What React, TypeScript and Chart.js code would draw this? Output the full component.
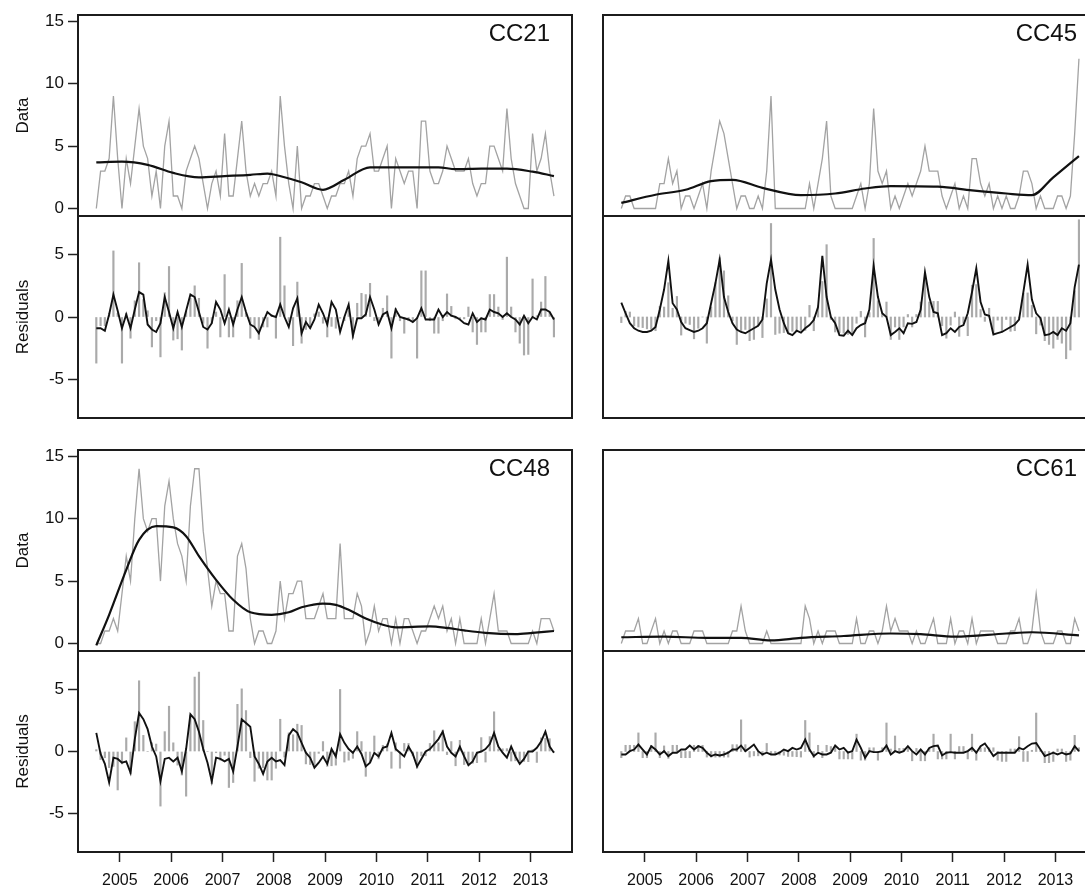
import React, { useEffect, useRef } from "react";
import { Chart, registerables } from "chart.js";

Chart.register(...registerables);

const FONT = '"Liberation Sans", Arial, Helvetica, sans-serif';
Chart.defaults.font.family = FONT;

// ---------- axes / categories ----------
const START_YEAR = 2005;
const X_MIN = 2004.685;
const X_MAX = 2014.31;
const YEAR_TICKS = [2005, 2006, 2007, 2008, 2009, 2010, 2011, 2012, 2013, 2014];
const YEAR_LABELS = [2005, 2006, 2007, 2008, 2009, 2010, 2011, 2012, 2013];
const DATA_TICKS = [0, 5, 10, 15];
const RESID_TICKS = [-5, 0, 5];
const DATA_MIN = -0.6;
const DATA_MAX = 15.5;
const RESID_MIN = -8.1;
const RESID_MAX = 8.1;

// ---------- CC21 ----------
const cc21Data = [
  0, 3, 3, 4, 9, 4, 0, 4, 2, 5,
  8, 5, 4, 1, 3, 0, 5, 7, 1, 1,
  0, 3, 4, 5, 4, 2, 0, 2, 3, 1,
  6, 1, 1, 4, 7, 3, 1, 2, 1, 2,
  2, 3, 1, 9, 5, 2, 0, 5, 0, 1,
  1, 2, 2, 1, 0, 1, 1, 2, 2, 3,
  1, 4, 5, 5, 6, 3, 3, 4, 5, 0,
  4, 3, 2, 3, 3, 0, 7, 7, 3, 2,
  2, 3, 5, 4, 3, 3, 3, 4, 2, 1,
  2, 2, 5, 5, 4, 3, 8, 4, 2, 1,
  0, 0, 6, 3, 4, 6, 3, 1,
];
const cc21TrendMonth = [0, 6, 12, 18, 24, 30, 36, 40, 44, 48, 53, 58, 64, 72, 80, 84, 90, 96, 102, 107];
const cc21TrendValue = [3.7, 3.75, 3.5, 2.85, 2.5, 2.6, 2.7, 2.8, 2.5, 2.1, 1.5, 2.3, 3.3, 3.3, 3.3, 3.15, 3.2, 3.2, 2.95, 2.6];
const cc21Resid = [
  -3.7, -0.7, -0.7, 0.3, 5.3, 0.3, -3.7, 0.3, -1.7, 1.3,
  4.35, 1.4, 0.5, -2.4, -0.3, -3.2, 1.95, 4.05, -1.85, -1.75,
  -2.65, 0.45, 1.5, 2.5, 1.5, -0.5, -2.5, -0.5, 0.4, -1.6,
  3.4, -1.6, -1.6, 1.3, 4.3, 0.3, -1.7, -0.7, -1.8, -0.8,
  -0.8, 0.2, -1.7, 6.4, 2.5, -0.4, -2.3, 2.8, -2.1, -1.0,
  -0.9, 0.25, 0.4, -0.5, -1.6, -0.75, -0.9, -0.1, -0.3, 0.5,
  -1.7, 1.1, 1.9, 1.8, 2.7, -0.3, -0.3, 0.7, 1.7, -3.3,
  0.7, -0.3, -1.3, -0.3, -0.3, -3.3, 3.7, 3.7, -0.3, -1.3,
  -1.3, -0.3, 1.85, 0.85, -0.15, -0.15, -0.15, 0.8, -1.2, -2.2,
  -1.2, -1.2, 1.8, 1.8, 0.8, -0.2, 4.8, 0.8, -1.2, -2.1,
  -3.05, -3.0, 3.05, 0.1, 1.2, 3.25, 0.35, -1.6,
];
const cc21Season = [
  -0.9, -0.9, -1.1, 0.2, 1.8, 0.5, -0.9, 0.2, -0.9, 0.6,
  2.0, 1.8, -0.6, -1.0, -1.2, -0.5, 1.6, 0.4, -0.9, 0.4,
  -0.8, 0.5, 1.8, 1.6, 0.4, -0.8, -1.0, -0.5, 1.2, 0.6,
  -0.5, 0.6, -0.6, 0.6, 1.6, 0.4, -0.6, -0.8, -1.3, -0.4,
  0.4, 0.1, 0, 1.0, 0, -0.8, 0.7, 1.5, -1.3, -0.4,
  -0.9, -0.2, 1.0, 0.3, -0.6, 1.2, 0.6, -1.2, 0, 1.0,
  -1.5, -0.1, -0.1, 0.2, 1.6, 0.6, -0.6, 0.2, 0.4, -0.9,
  0.6, 0, -0.1, -0.2, -0.4, -0.1, 0.7, -0.2, -0.2, -0.2,
  0.6, 0, 0.4, 0.1, 0, -0.2, -0.5, -0.6, 0.3, -0.4,
  -0.1, -0.2, 0.6, 0.4, 0.3, 0, 0.3, 0, -0.2, -0.6,
  0.1, -0.5, 0, -0.2, 0.6, 0.6, 0.4, -0.2,
];

// ---------- CC45 ----------
const cc45Data = [
  0, 1, 1, 0, 0, 0, 0, 0, 0, 2,
  2, 4, 2, 3, 0, 1, 1, 0, 1, 2,
  0, 3, 5, 7, 6, 4, 2, 0, 1, 1,
  0, 0, 1, 0, 3, 9, 0, 0, 0, 0,
  0, 0, 0, 0, 2, 0, 2, 4, 7, 1,
  0, 0, 0, 0, 0, 1, 2, 0, 2, 8,
  3, 2, 3, 0, 1, 0, 1, 2, 1, 2,
  3, 5, 3, 3, 3, 1, 0, 1, 2, 0,
  1, 0, 4, 4, 2, 1, 2, 0, 1, 0,
  1, 0, 0, 1, 3, 3, 2, 0, 1, 0,
  0, 0, 1, 1, 0, 1, 6, 12,
];
const cc45TrendMonth = [0, 8, 15, 21, 26, 33, 42, 50, 57, 63, 74, 82, 90, 96, 101, 107];
const cc45TrendValue = [0.45, 1.1, 1.5, 2.2, 2.3, 1.65, 1.07, 1.2, 1.6, 1.8, 1.75, 1.45, 1.2, 1.07, 2.5, 4.2];
const cc45Resid = [
  -0.45, 0.45, 0.4, -0.7, -0.8, -0.85, -0.95, -1.0, -1.1, 0.85,
  0.8, 2.75, 0.7, 1.65, -1.45, -0.5, -0.6, -1.75, -0.9, 0,
  -2.1, 0.8, 2.75, 4.75, 3.7, 1.7, -0.3, -2.2, -1.1, -1.0,
  -1.9, -1.8, -0.7, -1.65, 1.45, 7.5, -1.4, -1.3, -1.25, -1.2,
  -1.15, -1.1, -1.07, -1.07, 0.93, -1.1, 0.9, 2.85, 5.8, -0.2,
  -1.2, -1.25, -1.3, -1.4, -1.45, -0.5, 0.45, -1.6, 0.35, 6.3,
  1.3, 0.25, 1.2, -1.8, -0.8, -1.8, -0.8, 0.2, -0.8, 0.2,
  1.2, 3.2, 1.2, 1.25, 1.25, -0.7, -1.7, -0.65, 0.4, -1.55,
  -0.5, -1.5, 2.55, 2.6, 0.6, -0.35, 0.7, -1.3, -0.25, -1.2,
  -0.2, -1.15, -1.1, -0.1, 1.9, 1.93, 0.93, -1.35, -0.65, -1.9,
  -2.2, -2.5, -1.8, -2.1, -3.35, -2.65, 2.1, 7.8,
];
const cc45Season = [
  1.15, 0.3, -0.5, -0.9, -1.1, -1.2, -1.2, -1.1, -0.8, 0.6,
  2.2, 4.5, 1.1, 0.6, -0.4, -0.9, -1.05, -1.2, -1.1, -0.9,
  -0.5, 1.1, 2.7, 4.6, 1.6, 0.4, -0.5, -1.0, -1.2, -1.3,
  -1.1, -0.9, -0.7, -0.2, 2.7, 4.6, 2.2, 0.6, -0.5, -1.3,
  -1.45, -1.1, -1.25, -0.9, -0.65, -0.25, 0.8, 4.9, 1.6, 0,
  -0.5, -1.45, -1.5, -1.1, -1.45, -0.9, -0.65, -0.5, 0.6, 4.1,
  1.6, 0.3, 0, -1.45, -1.2, -0.9, -1.3, -0.5, -0.55, -0.4,
  0.6, 3.6, 1.6, 0.4, 0.3, -1.45, -1.3, -0.9, -1.2, -0.8,
  -0.65, 0.3, 2.0, 3.9, 1.2, 0.2, 0.1, -1.4, -1.3, -1.2,
  -1.0, -0.8, -0.6, -0.2, 2.0, 4.2, 1.4, 0.3, -0.1, -1.45,
  -1.4, -1.2, -1.45, -0.9, -1.1, -0.5, 2.4, 4.2,
];

// ---------- CC48 ----------
const cc48Data = [
  0, 0, 1, 1, 2, 1, 4, 7, 5, 10,
  14, 10, 9, 10, 10, 5, 11, 13, 10, 8,
  7, 5, 11, 14, 14, 9, 6, 3, 5, 4,
  4, 1, 1, 7, 8, 6, 2, 0, 1, 1,
  0, 0, 1, 5, 2, 4, 4, 5, 5, 2,
  2, 2, 3, 4, 2, 2, 2, 8, 2, 2,
  2, 4, 3, 0, 1, 3, 1, 2, 2, 0,
  2, 0, 2, 2, 1, 0, 1, 1, 2, 3,
  2, 3, 1, 2, 0, 2, 0, 0, 0, 0,
  2, 0, 2, 4, 1, 1, 1, 0, 0, 0,
  0, 0, 1, 0, 2, 2, 2, 1,
];
const cc48TrendMonth = [0, 3, 7, 10, 14, 18, 21, 24, 28, 32, 36, 41, 45, 48, 53, 56, 59, 63, 67, 70, 78, 82, 86, 91, 98, 102, 107];
const cc48TrendValue = [-0.15, 2.3, 5.9, 8.3, 9.4, 9.3, 8.6, 7.0, 5.1, 3.5, 2.5, 2.3, 2.5, 2.9, 3.2, 3.1, 2.7, 2.0, 1.5, 1.3, 1.37, 1.25, 1.05, 0.85, 0.75, 0.85, 1.0];
const cc48Resid = [
  0.15, -0.65, -0.5, -1.3, -1.2, -3.1, -1.0, 1.1, -1.8, 2.4,
  5.7, 1.3, 0, 0.7, 0.6, -4.4, 1.6, 3.65, 0.7, -1.1,
  -1.9, -3.6, 2.9, 6.0, 6.4, 2.5, 0, -2.6, -0.1, -0.7,
  -0.3, -2.9, -2.5, 3.8, 5.05, 3.3, -0.5, -2.4, -1.35, -1.3,
  -2.3, -2.3, -1.35, 2.6, -0.45, 1.5, 1.35, 2.2, 2.1, -1.0,
  -1.05, -1.1, -0.15, 0.8, -1.2, -1.15, -1.1, 5.0, -0.85, -0.7,
  -0.55, 1.6, 0.8, -2.0, -0.85, 1.25, -0.6, 0.5, 0.6, -1.35,
  0.7, -1.35, 0.65, 0.65, -0.35, -1.35, -0.35, -0.35, 0.65, 1.67,
  0.7, 1.72, -0.25, 0.8, -1.15, 0.9, -1.05, -1.0, -0.95, -0.9,
  1.12, -0.85, 1.2, 3.2, 0.2, 0.22, 0.23, -0.77, -0.75, -0.78,
  -0.8, -0.82, 0.15, -0.88, 1.1, 1.07, 1.03, 0,
];
const cc48Season = [
  1.5, -0.2, -1.0, -2.5, -0.5, -0.6, -0.9, -0.8, -1.7, 1.0,
  3.1, 2.6, 1.8, 0.4, -0.4, -2.4, -0.6, -0.5, -0.8, -0.5,
  -1.6, 0.2, 3.0, 2.6, 1.6, 0.2, -0.9, -2.4, -0.5, -0.6,
  -0.8, -0.6, -1.6, 0.4, 2.6, 2.3, 2.0, -0.4, -1.0, -1.8,
  -0.8, -0.5, -0.8, -0.7, -1.1, 1.3, 1.8, 1.5, 0.7, -0.1,
  -0.5, -1.3, -0.9, -0.4, -1.0, 0.2, -0.4, 1.4, 0.7, 0.2,
  -0.1, 0.4, -0.2, -1.2, -0.9, -0.1, -0.4, 0.3, 0.4, 1.5,
  0.2, -0.1, -0.4, 0.4, -0.2, -1.2, -0.6, 0, 0.2, 0.6,
  1.0, 1.6, 0.4, -0.1, -0.4, 0.4, -0.4, -1.1, -0.8, -0.1,
  0, 0.2, 0.6, 1.5, 0.4, -0.1, -0.5, 0.4, -0.4, -1.0,
  -0.6, 0, 0, 0.3, 0.8, 1.6, 0.4, -0.1,
];

// ---------- CC61 ----------
const cc61Data = [
  0, 1, 1, 1, 2, 0, 0, 1, 2, 0,
  1, 0, 1, 1, 0, 0, 0, 1, 1, 1,
  0, 0, 0, 0, 0, 0, 1, 1, 3, 1,
  0, 0, 0, 0, 1, 0, 0, 0, 0, 0,
  0, 0, 0, 3, 2, 0, 1, 0, 1, 1,
  1, 0, 0, 0, 0, 2, 0, 0, 1, 1,
  0, 1, 3, 1, 2, 1, 1, 1, 0, 1,
  0, 0, 1, 2, 0, 0, 0, 2, 0, 1,
  1, 0, 2, 0, 1, 1, 1, 1, 0, 0,
  0, 1, 1, 2, 0, 0, 1, 4, 1, 0,
  0, 0, 1, 1, 0, 0, 2, 1,
];
const cc61TrendMonth = [0, 10, 20, 28, 35, 42, 52, 63, 70, 78, 90, 96, 107];
const cc61TrendValue = [0.5, 0.55, 0.45, 0.45, 0.25, 0.45, 0.6, 0.8, 0.75, 0.55, 0.8, 0.9, 0.65];
const cc61Resid = [
  -0.5, 0.5, 0.5, 0.5, 1.5, -0.5, -0.5, 0.5, 1.5, -0.5,
  0.45, -0.55, 0.5, 0.5, -0.5, -0.5, -0.5, 0.5, 0.5, 0.5,
  -0.45, -0.45, -0.45, -0.45, -0.45, -0.45, 0.55, 0.55, 2.55, 0.55,
  -0.45, -0.35, -0.35, -0.35, 0.65, -0.25, -0.25, -0.28, -0.3, -0.4,
  -0.4, -0.42, -0.45, 2.5, 1.5, -0.5, 0.5, -0.5, 0.5, 0.4,
  0.4, -0.6, -0.6, -0.6, -0.6, 1.4, -0.7, -0.7, 0.3, 0.3,
  -0.7, 0.3, 2.3, 0.2, 1.25, 0.25, 0.25, 0.25, -0.75, 0.25,
  -0.75, -0.75, 0.25, 1.4, -0.6, -0.6, -0.6, 1.4, -0.6, 0.4,
  0.4, -0.6, 1.4, -0.7, 0.3, 0.3, 0.3, 0.3, -0.7, -0.8,
  -0.8, 0.2, 0.2, 1.2, -0.8, -0.8, 0.1, 3.1, 0.1, -0.9,
  -0.9, -0.8, 0.2, 0.2, -0.8, -0.7, 1.3, 0.3,
];
const cc61Season = [
  -0.24, -0.24, 0.03, 0.16, 0.56, 0.16, -0.24, 0.43, 0.16, -0.24,
  0.03, -0.37, -0.1, -0.1, 0.16, 0.16, 0.48, 0.16, 0.43, 0.29,
  -0.1, -0.37, -0.24, -0.32, -0.24, -0.1, 0.16, 0.16, 0.48, 0.03,
  0.29, 0.56, 0.03, -0.24, -0.1, -0.24, -0.24, -0.1, 0.16, 0.03,
  0.29, 0.16, 0.29, 0.96, 0.16, -0.37, -0.1, -0.24, -0.24, -0.1,
  0.48, 0.16, 0.29, -0.1, 0.03, 0.96, 0.29, -0.5, 0.03, -0.05,
  -0.05, 0.03, 0.48, -0.24, 0.03, -0.1, 0.03, 0.43, 0.03, -0.24,
  0.16, -0.24, 0.29, 0.43, 0.48, -0.32, -0.1, -0.05, -0.1, -0.1,
  -0.1, 0.03, 0.29, -0.1, 0.43, 0.64, 0.16, -0.37, -0.1, -0.1,
  -0.1, -0.1, -0.1, 0.29, 0.16, 0.43, 0.64, 0.69, 0.16, -0.37,
  -0.24, -0.1, -0.24, -0.1, -0.24, -0.15, 0.43, 0.03,
];

// ---------- panels ----------
type Series = {
  name: string;
  data: number[];
  trendMonth: number[];
  trendValue: number[];
  resid: number[];
  season: number[];
};

const SERIES: Series[] = [
  { name: "CC21", data: cc21Data, trendMonth: cc21TrendMonth, trendValue: cc21TrendValue, resid: cc21Resid, season: cc21Season },
  { name: "CC45", data: cc45Data, trendMonth: cc45TrendMonth, trendValue: cc45TrendValue, resid: cc45Resid, season: cc45Season },
  { name: "CC48", data: cc48Data, trendMonth: cc48TrendMonth, trendValue: cc48TrendValue, resid: cc48Resid, season: cc48Season },
  { name: "CC61", data: cc61Data, trendMonth: cc61TrendMonth, trendValue: cc61TrendValue, resid: cc61Resid, season: cc61Season },
];

// layout (page pixels)
const PLOT_WIDTH = 494;
const COLS = [
  { left: 0, width: 590, padLeft: 0, padRight: 18, yAxis: true, titleInset: 22 },
  { left: 590, width: 520, padLeft: 13, padRight: 13, yAxis: false, titleInset: 20 },
];
const ROWS = [
  {
    data: { top: 0, height: 232, padTop: 15, padBottom: 16 },
    resid: { top: 200, height: 232, padTop: 16, padBottom: 14 },
    xAxis: false,
  },
  {
    data: { top: 434, height: 232, padTop: 16, padBottom: 15 },
    resid: { top: 635, height: 255, padTop: 16, padBottom: 0 },
    xAxis: true,
  },
];
// half a year, in pixels: labels sit between the yearly tick marks
const LABEL_SHIFT = PLOT_WIDTH / (X_MAX - X_MIN) / 2;

const monthX = (i: number) => START_YEAR + (i + 0.5) / 12;

const framePlugin = {
  id: "panelFrame",
  afterDraw(chart: any, _args: any, opts: any) {
    const { ctx, chartArea: a } = chart;
    ctx.save();
    ctx.strokeStyle = "#1c1c1c";
    ctx.lineWidth = 2;
    ctx.strokeRect(a.left, a.top, a.right - a.left, a.bottom - a.top);
    if (opts && opts.title) {
      ctx.font = `24px ${FONT}`;
      ctx.fillStyle = "#111";
      ctx.textAlign = "right";
      ctx.textBaseline = "alphabetic";
      ctx.fillText(opts.title, a.right - opts.inset, a.top + 26);
    }
    ctx.restore();
  },
};

function xScale(show: boolean) {
  return {
    type: "linear",
    min: X_MIN,
    max: X_MAX,
    display: show,
    offset: false,
    afterBuildTicks: (scale: any) => {
      scale.ticks = YEAR_TICKS.map((v) => ({ value: v }));
    },
    afterFit: (scale: any) => {
      if (!show) return;
      scale.height = 38;
      scale.paddingLeft = 0;
      scale.paddingRight = 0;
    },
    grid: {
      display: true,
      drawOnChartArea: false,
      drawTicks: true,
      tickLength: 10,
      tickWidth: 1.5,
      tickColor: "#222",
    },
    border: { display: false },
    ticks: {
      autoSkip: false,
      maxRotation: 0,
      minRotation: 0,
      padding: 9,
      labelOffset: LABEL_SHIFT,
      color: "#111",
      font: { family: FONT, size: 16 },
      callback: (v: any) => (YEAR_LABELS.includes(v) ? String(v) : ""),
    },
  };
}

function yScale(show: boolean, min: number, max: number, ticks: number[], title: string) {
  return {
    type: "linear",
    min,
    max,
    display: show,
    afterBuildTicks: (scale: any) => {
      scale.ticks = ticks.map((v) => ({ value: v }));
    },
    afterFit: (scale: any) => {
      if (!show) return;
      scale.width = 78;
      scale.paddingTop = 0;
      scale.paddingBottom = 0;
    },
    grid: {
      display: true,
      drawOnChartArea: false,
      drawTicks: true,
      tickLength: 10,
      tickWidth: 1.5,
      tickColor: "#222",
    },
    border: { display: false },
    ticks: { padding: 4, color: "#111", font: { family: FONT, size: 17 } },
    title: {
      display: true,
      text: title,
      color: "#111",
      font: { family: FONT, size: 17 },
      padding: { top: 13, bottom: 0 },
    },
  };
}

type Spec = {
  key: string;
  left: number;
  top: number;
  width: number;
  height: number;
  config: () => any;
};

function buildSpecs(): Spec[] {
  const specs: Spec[] = [];
  SERIES.forEach((s, idx) => {
    const col = COLS[idx % 2];
    const row = ROWS[Math.floor(idx / 2)];
    const xs = s.data.map((_, i) => monthX(i));

    // data sub-panel
    const d = row.data;
    specs.push({
      key: s.name + "-data",
      left: col.left,
      top: d.top,
      width: col.width,
      height: d.height,
      config: () => ({
        type: "line",
        data: {
          datasets: [
            {
              label: "trend",
              data: s.trendMonth.map((m, k) => ({ x: monthX(m), y: s.trendValue[k] })),
              borderColor: "#111",
              borderWidth: 2.2,
              pointRadius: 0,
              cubicInterpolationMode: "monotone",
              fill: false,
              order: 0,
            },
            {
              label: "data",
              data: s.data.map((v, i) => ({ x: xs[i], y: v })),
              borderColor: "#a3a3a3",
              borderWidth: 1.3,
              pointRadius: 0,
              tension: 0,
              fill: false,
              order: 1,
            },
          ],
        },
        options: {
          responsive: false,
          animation: false,
          events: [],
          layout: { padding: { left: col.padLeft, right: col.padRight, top: d.padTop, bottom: d.padBottom } },
          scales: {
            x: xScale(false),
            y: yScale(col.yAxis, DATA_MIN, DATA_MAX, DATA_TICKS, "Data"),
          },
          plugins: {
            legend: { display: false },
            tooltip: { enabled: false },
            panelFrame: { title: s.name, inset: col.titleInset },
          },
        },
        plugins: [framePlugin],
      }),
    });

    // residual sub-panel
    const r = row.resid;
    specs.push({
      key: s.name + "-resid",
      left: col.left,
      top: r.top,
      width: col.width,
      height: r.height,
      config: () => ({
        type: "line",
        data: {
          datasets: [
            {
              type: "line",
              label: "seasonal",
              data: s.season.map((v, i) => ({ x: xs[i], y: v })),
              borderColor: "#111",
              borderWidth: 1.9,
              pointRadius: 0,
              tension: 0,
              fill: false,
              order: 0,
            },
            {
              type: "bar",
              label: "residuals",
              data: s.resid.map((v, i) => ({ x: xs[i], y: v })),
              backgroundColor: "#aaaaaa",
              borderWidth: 0,
              barThickness: 1.5,
              grouped: false,
              order: 1,
            },
          ],
        },
        options: {
          responsive: false,
          animation: false,
          events: [],
          layout: { padding: { left: col.padLeft, right: col.padRight, top: r.padTop, bottom: r.padBottom } },
          scales: {
            x: xScale(row.xAxis),
            y: yScale(col.yAxis, RESID_MIN, RESID_MAX, RESID_TICKS, "Residuals"),
          },
          plugins: {
            legend: { display: false },
            tooltip: { enabled: false },
            panelFrame: { title: "", inset: 0 },
          },
        },
        plugins: [framePlugin],
      }),
    });
  });
  return specs;
}

function SubChart({ spec }: { spec: Spec }) {
  const ref = useRef<HTMLCanvasElement | null>(null);
  useEffect(() => {
    if (!ref.current) return;
    const chart = new Chart(ref.current, spec.config());
    return () => chart.destroy();
  }, [spec]);
  return (
    <canvas
      ref={ref}
      width={spec.width}
      height={spec.height}
      style={{
        position: "absolute",
        left: spec.left,
        top: spec.top,
        width: spec.width,
        height: spec.height,
      }}
    />
  );
}

const SPECS = buildSpecs();

export default function App() {
  return (
    <div
      style={{
        position: "absolute",
        left: 0,
        top: 0,
        width: 1085,
        height: 890,
        overflow: "hidden",
        background: "#fff",
      }}
    >
      {SPECS.map((s) => (
        <SubChart key={s.key} spec={s} />
      ))}
    </div>
  );
}
